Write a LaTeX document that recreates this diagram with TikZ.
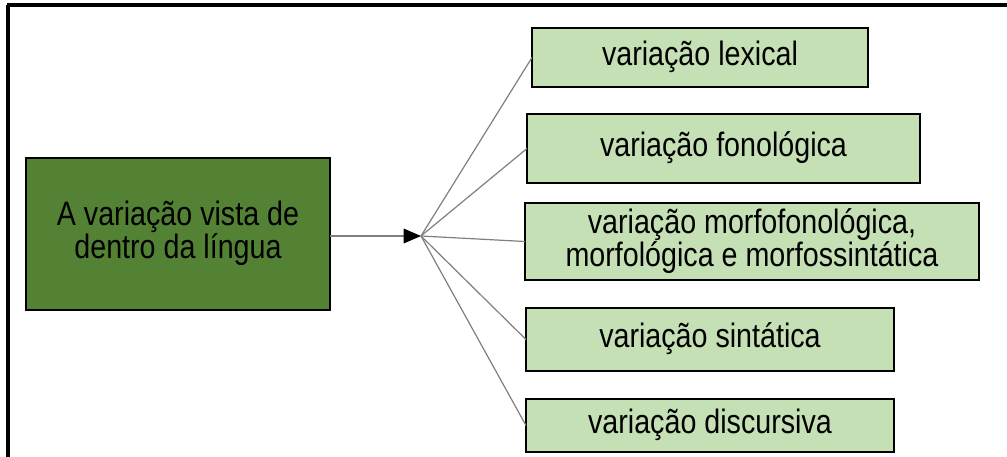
\documentclass[tikz,border=0pt]{standalone}
\usepackage{fontspec}
\usepackage{graphicx}
\setmainfont{Liberation Sans}
\usetikzlibrary{arrows.meta}

\definecolor{darkgreen}{HTML}{548235}
\definecolor{lightgreen}{HTML}{C5E0B4}
\definecolor{linkgray}{HTML}{7F7F7F}

% text block slightly taller than wide, as set in the figure
\newcommand{\boxtext}[1]{\scalebox{1}[1.18]{\begin{tabular}{@{}c@{}}#1\end{tabular}}}

\begin{document}
\begin{tikzpicture}[x=0.75pt,y=-0.75pt,
  every node/.style={font=\fontsize{21.5pt}{17.6pt}\selectfont, inner sep=0pt, outer sep=0pt},
  mainbox/.style={draw=black, line width=1.6pt, fill=darkgreen, text=black},
  leafbox/.style={draw=black, line width=1.6pt, fill=lightgreen, text=black},
  link/.style={draw=linkgray, line width=0.9pt},
  frame/.style={draw=black, line width=2.6pt}]

\useasboundingbox (0,0) rectangle (1007,457);

% figure frame (top and left edges)
\draw[frame] (7,5) -- (1007,5);
\draw[frame] (8,5) -- (8,457);

% central box
\node[mainbox, minimum width=228pt, minimum height=114pt] (main) at (178,234)
  {\raisebox{-3pt}{\boxtext{A variação vista de\\dentro da língua}}};

% kinds of variation
\node[leafbox, minimum width=252pt, minimum height=44.25pt] (lex) at (700,57.5)
  {\boxtext{variação lexical}};
\node[leafbox, minimum width=294.75pt, minimum height=51.75pt] (fon) at (723.5,148.5)
  {\boxtext{variação fonológica}};
\node[leafbox, minimum width=340.5pt, minimum height=57.75pt] (mor) at (752,241.5)
  {\boxtext{variação morfofonológica,\\morfológica e morfossintática}};
\node[leafbox, minimum width=276pt, minimum height=47.25pt] (sin) at (710,339.5)
  {\boxtext{variação sintática}};
\node[leafbox, minimum width=276pt, minimum height=39.75pt] (dis) at (710,425.5)
  {\boxtext{variação discursiva}};

% branching point
\coordinate (hub) at (421,236);

\draw[link, -{Triangle[length=13pt, width=11pt, fill=black, color=black]}]
  (main.east |- hub) -- (hub);

\foreach \leaf in {lex,fon,mor,sin,dis}
  \draw[link] (hub) -- (\leaf.west);

\end{tikzpicture}
\end{document}
